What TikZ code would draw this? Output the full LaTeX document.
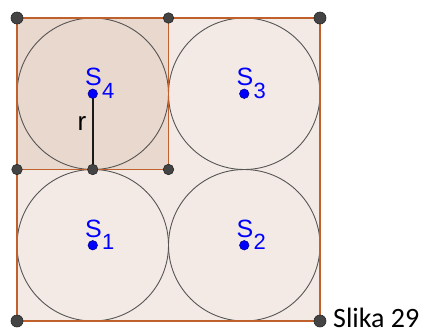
\documentclass[tikz,border=0pt]{standalone}
\usepackage{fontspec}
\newfontfamily\geofont{Liberation Sans}
\newfontfamily\capfont{Carlito}
\definecolor{bigfill}{RGB}{243,234,229}
\definecolor{smallfill}{RGB}{233,216,206}
\definecolor{edge}{RGB}{192,96,44}
\definecolor{circ}{RGB}{85,85,85}
\definecolor{ptgray}{RGB}{68,68,68}
\definecolor{ptblue}{RGB}{0,0,255}
\tikzset{
  bigpt/.style={circle,fill=ptgray,draw=black!85,line width=0.6pt,inner sep=0pt,minimum size=12pt},
  smallpt/.style={circle,fill=ptgray,draw=black!85,line width=0.6pt,inner sep=0pt,minimum size=10.5pt},
  ctr/.style={circle,fill=ptblue,draw=blue!50!black,line width=0.5pt,inner sep=0pt,minimum size=9.5pt},
  ring/.style={draw=circ,line width=0.9pt},
  edgeline/.style={draw=edge,line width=1.8pt},
  slab/.style={anchor=base west,inner sep=0pt,text=ptblue,font=\geofont\fontsize{25}{25}\selectfont},
  sublab/.style={anchor=base west,inner sep=0pt,text=ptblue,font=\geofont\fontsize{22}{22}\selectfont},
}
\begin{document}
\begin{tikzpicture}[x=1pt,y=-1pt]
\useasboundingbox (0,0) rectangle (431,333);
% coordinates
\coordinate (A) at (17,18);
\coordinate (B) at (320,18);
\coordinate (C) at (320,321);
\coordinate (D) at (17,321);
\coordinate (E) at (168.5,18);
\coordinate (F) at (168.5,169.5);
\coordinate (G) at (17,169.5);
\coordinate (M) at (92.75,169.5);
\coordinate (S4) at (92.75,93.75);
\coordinate (S3) at (244.25,93.75);
\coordinate (S1) at (92.75,245.25);
\coordinate (S2) at (244.25,245.25);
% fills
\fill[bigfill] (A) rectangle (C);
\fill[smallfill] (A) rectangle (F);
% circles
\foreach \c in {S1,S2,S3,S4} \draw[ring] (\c) circle (75.75);
% borders
\draw[edgeline] (A) -- (B) -- (C) -- (D) -- cycle;
\draw[edgeline] (E) -- (F) -- (G);
% radius
\draw[black!90,line width=1.6pt] (S4) -- (M);
\node[anchor=base west,inner sep=0pt,font=\geofont\fontsize{26}{26}\selectfont] (rl) at (77.5,130) {r};
% points
\node[bigpt] (pA) at (A) {};
\node[bigpt] (pB) at (B) {};
\node[bigpt] (pC) at (C) {};
\node[bigpt] (pD) at (D) {};
\node[smallpt] (pE) at (E) {};
\node[smallpt] (pF) at (F) {};
\node[smallpt] (pG) at (G) {};
\node[smallpt] (pM) at (M) {};
\foreach \c in {S1,S2,S3,S4} \node[ctr] (p\c) at (\c) {};
% labels
\node[slab] (l4) at (85,85.5) {S};
\node[sublab] (l4s) at (102,98) {4};
\node[slab] (l3) at (236.5,85.5) {S};
\node[sublab] (l3s) at (253.5,98) {3};
\node[slab] (l1) at (85,237) {S};
\node[sublab] (l1s) at (102,249.5) {1};
\node[slab] (l2) at (236.5,237) {S};
\node[sublab] (l2s) at (253.5,249.5) {2};
\node[anchor=base west,inner sep=0pt,text depth=0pt,font=\capfont\fontsize{28}{28}\selectfont] (cap) at (333,327) {Slika 29};
\end{tikzpicture}
\end{document}
